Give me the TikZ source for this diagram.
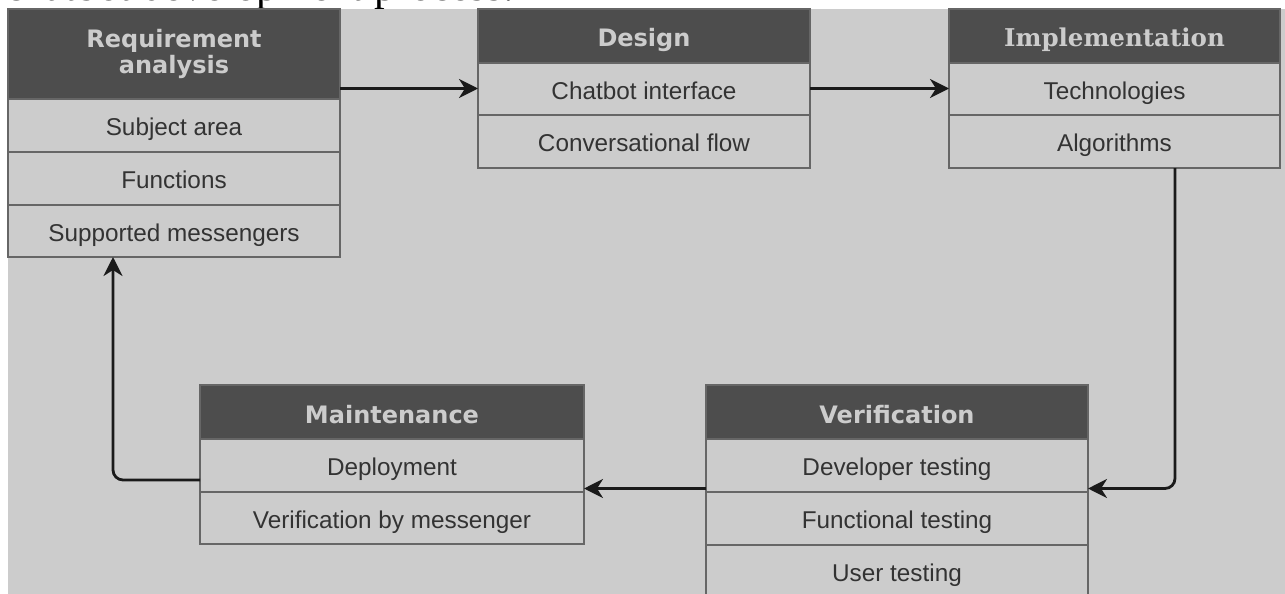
\documentclass[tikz,border=0pt]{standalone}
\usepackage{fontspec}
\setmainfont{Liberation Sans}
\newfontfamily\hdfont{DejaVu Sans}
\newfontfamily\hdserif{DejaVu Serif}
\newfontfamily\capfont{Liberation Serif}
\usetikzlibrary{arrows.meta,fit,calc}
\definecolor{bggray}{HTML}{CCCCCC}
\definecolor{hdrgray}{HTML}{4D4D4D}
\definecolor{hdrtext}{HTML}{CCCCCC}
\definecolor{rowtext}{HTML}{333333}
\definecolor{bordergray}{HTML}{666666}
\definecolor{linecol}{HTML}{1A1A1A}
\begin{document}
\begin{tikzpicture}[x=1pt,y=-1pt,
  cell/.style={draw=bordergray, line width=1.3pt, inner sep=0pt, outer sep=0pt, anchor=north west, align=center},
  hdr/.style={cell, fill=hdrgray, text=hdrtext, font=\hdfont\bfseries\fontsize{24}{26}\selectfont},
  hdrone/.style={hdr, text height=22pt, text depth=0pt},
  hdrserif/.style={hdrone, font=\hdserif\bfseries\fontsize{24.5}{26}\selectfont},
  rowc/.style={cell, fill=bggray, text=rowtext, font=\fontsize{24.3}{28}\selectfont, text height=20.5pt, text depth=0pt},
  boxfit/.style={inner sep=0pt, outer sep=0pt, draw=none},
  conn/.style={draw=linecol, line width=2.8pt, -{Stealth[length=19pt,width=19pt,inset=6pt]}, rounded corners=10pt}]
\useasboundingbox (0,0) rectangle (1285,594);
\clip (0,0) rectangle (1285,594);
\fill[white] (0,0) rectangle (1285,594);
\node[anchor=base west, inner sep=0pt, font=\capfont\fontsize{42.9}{44}\selectfont] (cap) at (5,0.3) {chatbot development process.};
\fill[bggray] (8,9) rectangle (1285,594);

% Requirement analysis
\node[hdr, minimum width=332pt, minimum height=90pt] (reqH) at (8,9) {Requirement\\analysis};
\node[rowc, minimum width=332pt, minimum height=53pt] (reqR1) at (8,99) {Subject area};
\node[rowc, minimum width=332pt, minimum height=53pt] (reqR2) at (8,152) {Functions};
\node[rowc, minimum width=332pt, minimum height=52pt] (reqR3) at (8,205) {Supported messengers};
\node[boxfit, fit=(reqH)(reqR3)] (req) {};

% Design
\node[hdrone, minimum width=332pt, minimum height=54pt] (desH) at (478,9) {Design};
\node[rowc, minimum width=332pt, minimum height=52pt] (desR1) at (478,63) {Chatbot interface};
\node[rowc, minimum width=332pt, minimum height=53pt] (desR2) at (478,115) {Conversational flow};
\node[boxfit, fit=(desH)(desR2)] (des) {};

% Implementation
\node[hdrserif, minimum width=331pt, minimum height=54pt] (impH) at (949,9) {Implementation};
\node[rowc, minimum width=331pt, minimum height=52pt] (impR1) at (949,63) {Technologies};
\node[rowc, minimum width=331pt, minimum height=53pt] (impR2) at (949,115) {Algorithms};
\node[boxfit, fit=(impH)(impR2)] (imp) {};

% Maintenance
\node[hdrone, minimum width=384pt, minimum height=54pt] (maiH) at (200,385) {Maintenance};
\node[rowc, minimum width=384pt, minimum height=53pt] (maiR1) at (200,439) {Deployment};
\node[rowc, minimum width=384pt, minimum height=52pt] (maiR2) at (200,492) {Verification by messenger};
\node[boxfit, fit=(maiH)(maiR2)] (mai) {};

% Verification
\node[hdrone, minimum width=382pt, minimum height=54pt] (verH) at (706,385) {Verification};
\node[rowc, minimum width=382pt, minimum height=53pt] (verR1) at (706,439) {Developer testing};
\node[rowc, minimum width=382pt, minimum height=53pt] (verR2) at (706,492) {Functional testing};
\node[rowc, minimum width=382pt, minimum height=53pt] (verR3) at (706,545) {User testing};
\node[boxfit, fit=(verH)(verR3)] (ver) {};

% Connectors
\draw[conn] (des.west -| req.east) -- (des.west);
\draw[conn] (des.east) -- (imp.west);
\draw[conn] ([xshift=60.5pt]imp.south) |- ([yshift=3pt]ver.east);
\draw[conn] ([yshift=3pt]ver.west) -- ([yshift=3pt]ver.west -| mai.east);
\draw[conn] ([yshift=-15.5pt]mai.west) -| ([xshift=-61pt]req.south);
\end{tikzpicture}
\end{document}
